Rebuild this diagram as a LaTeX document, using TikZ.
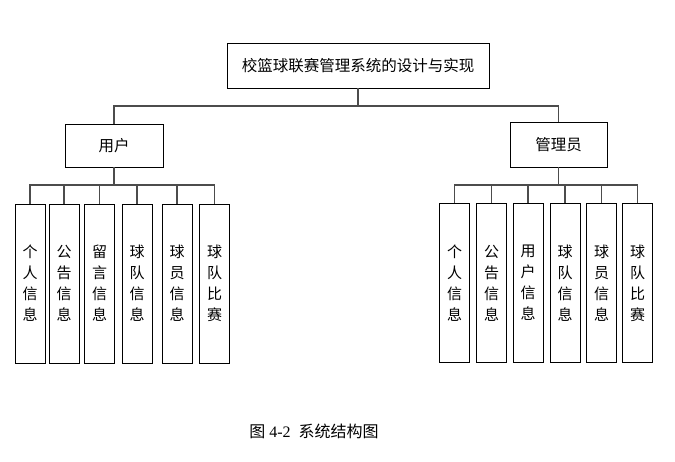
\documentclass[tikz,border=0pt]{standalone}
\usepackage{fontspec}
\setmainfont{Liberation Serif}
\newfontfamily\cjk{Noto Sans CJK SC}
\tikzset{
  box/.style={draw=black, line width=0.9pt, fill=white, inner sep=0pt, font=\cjk\fontsize{15.5}{18}\selectfont},
  leaf/.style={draw=black, line width=0.9pt, fill=white, inner sep=0pt, minimum width=30pt, minimum height=159pt,
     align=center, font=\cjk\fontsize{15}{21}\selectfont},
  conn/.style={draw=black!70, line width=1.1pt},
}
\begin{document}
\begin{tikzpicture}[x=1pt,y=-1pt]
\useasboundingbox (0,0) rectangle (675,462);
% top
\node[box, minimum width=262pt, minimum height=45pt] (top) at (358,65.5) {校篮球联赛管理系统的设计与实现};
\node[box, minimum width=98pt, minimum height=43pt] (user) at (114,145.5) {用户};
\node[box, minimum width=97pt, minimum height=45pt] (admin) at (558.5,144.5) {管理员};
\coordinate (b0) at (358,106);
\draw[conn] (top.south) -- (b0);
\draw[conn] (user.north) |- (b0) -| (admin.north);
% user leaves
\node[leaf] (u1) at (30,283.5) {个\\人\\信\\息};
\node[leaf] (u2) at (64,283.5) {公\\告\\信\\息};
\node[leaf] (u3) at (99.5,283.5) {留\\言\\信\\息};
\node[leaf] (u4) at (137,283.5) {球\\队\\信\\息};
\node[leaf] (u5) at (177,283.5) {球\\员\\信\\息};
\node[leaf] (u6) at (214.5,283.5) {球\\队\\比\\赛};
\coordinate (ub) at (114,185);
\draw[conn] (user.south) -- (ub);
\foreach \c in {u1,u2,u3,u4,u5,u6} \draw[conn] (\c.north) |- (ub);
% admin leaves
\node[leaf] (a1) at (454.5,283) {个\\人\\信\\息};
\node[leaf] (a2) at (491.5,283) {公\\告\\信\\息};
\node[leaf] (a3) at (528,283) {用\\户\\信\\息};
\node[leaf] (a4) at (565,283) {球\\队\\信\\息};
\node[leaf] (a5) at (601.5,283) {球\\员\\信\\息};
\node[leaf] (a6) at (637.5,283) {球\\队\\比\\赛};
\coordinate (ab) at (558.5,185);
\draw[conn] (admin.south) -- (ab);
\foreach \c in {a1,a2,a3,a4,a5,a6} \draw[conn] (\c.north) |- (ab);
% caption
\node[font=\fontsize{16}{18}\selectfont, inner sep=0pt] (cap) at (314,431) {{\cjk 图}\ 4-2\ \ {\cjk 系统结构图}};
\end{tikzpicture}
\end{document}
